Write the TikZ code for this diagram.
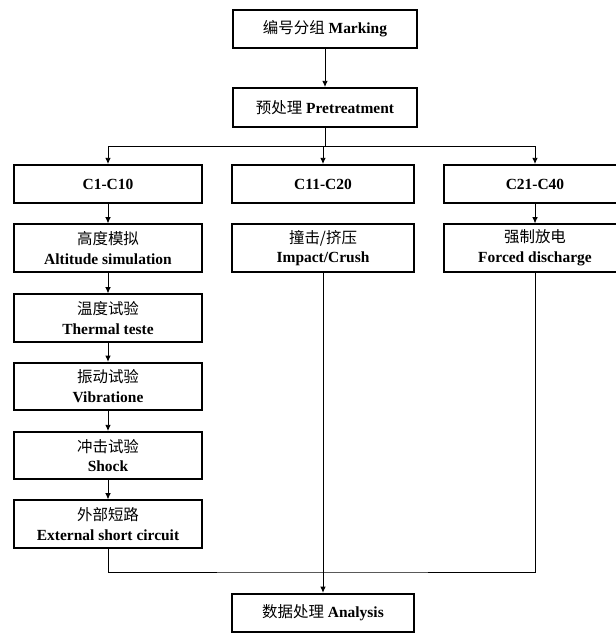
\documentclass[tikz,border=0pt]{standalone}
\usepackage{fontspec}
\setmainfont{Liberation Serif}
\newfontfamily\cjk{Noto Sans CJK SC}
\usetikzlibrary{arrows.meta}

\begin{document}
\begin{tikzpicture}[>={Latex[length=4.5pt,width=4pt]},
    box/.style={draw,line width=1.3pt,minimum height=0.95cm,inner sep=1pt,align=center,
      font=\fontsize{11}{14}\selectfont\bfseries},
    tallbox/.style={box,minimum height=1.18cm},
    wire/.style={line width=0.7pt}]
      \useasboundingbox (0,0) rectangle (15.375,-15.825);
      % top chain
      \node[box,minimum width=4.6cm] (mark) at (8.125,-0.725) {{\cjk\mdseries 编号分组} Marking};
      \node[box,minimum width=4.6cm,minimum height=0.98cm] (pre) at (8.125,-2.69) {{\cjk\mdseries 预处理} Pretreatment};
      % groups
      \node[box,minimum width=4.7cm] (c1) at (2.7,-4.6) {C1-C10};
      \node[box,minimum width=4.55cm] (c11) at (8.075,-4.6) {C11-C20};
      \node[box,minimum width=4.55cm] (c21) at (13.375,-4.6) {C21-C40};
      % tests
      \node[tallbox,minimum width=4.7cm] (alt) at (2.7,-6.2) {{\cjk\mdseries 高度模拟}\\Altitude simulation};
      \node[tallbox,minimum width=4.55cm] (imp) at (8.075,-6.2) {{\cjk\mdseries 撞击/挤压}\\Impact/Crush};
      \node[tallbox,minimum width=4.55cm] (dis) at (13.375,-6.2) {{\cjk\mdseries 强制放电}\\Forced discharge};
      \node[tallbox,minimum width=4.7cm] (therm) at (2.7,-7.95) {{\cjk\mdseries 温度试验}\\Thermal teste};
      \node[tallbox,minimum width=4.7cm] (vib) at (2.7,-9.66) {{\cjk\mdseries 振动试验}\\Vibratione};
      \node[tallbox,minimum width=4.7cm] (shock) at (2.7,-11.39) {{\cjk\mdseries 冲击试验}\\Shock};
      \node[tallbox,minimum width=4.7cm] (ext) at (2.7,-13.1) {{\cjk\mdseries 外部短路}\\External short circuit};
      \node[box,minimum width=4.55cm] (ana) at (8.075,-15.32) {{\cjk\mdseries 数据处理} Analysis};
      % connectors
      \coordinate (split) at (8.125,-3.65);
      \coordinate (merge) at (8.075,-14.3);
      \draw[wire,->] (mark) -- (pre);
      \draw[wire] (pre.south) -- (split);
      \draw[wire,->] (split) -| (c1.north);
      \draw[wire,->] (split) -| (c11.north);
      \draw[wire,->] (split) -| (c21.north);
      \draw[wire,->] (c1) -- (alt);
      \draw[wire,->] (alt) -- (therm);
      \draw[wire,->] (therm) -- (vib);
      \draw[wire,->] (vib) -- (shock);
      \draw[wire,->] (shock) -- (ext);
      \draw[wire,->] (c21) -- (dis);
      \draw[wire,->] (imp) -- (ana);
      \draw[wire] (ext.south) |- (merge) -| (dis.south);
    \end{tikzpicture}
\end{document}
